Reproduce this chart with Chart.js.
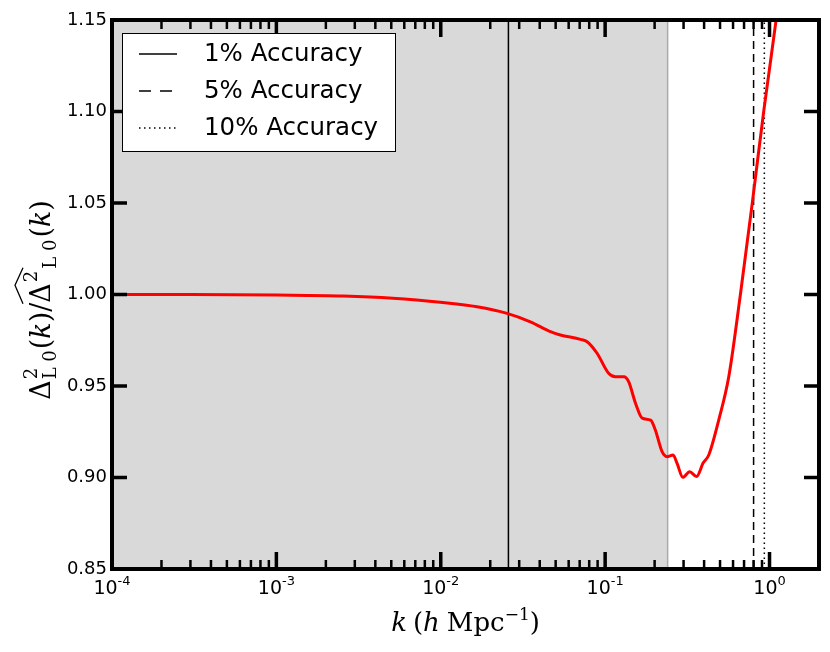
<!DOCTYPE html>
<html>
<head>
<meta charset="utf-8">
<script src="https://cdn.jsdelivr.net/npm/chart.js@4.4.1/dist/chart.umd.min.js"></script>
<style>
  html, body { margin: 0; padding: 0; background: #fff; }
  canvas { display: block; }
</style>
</head>
<body>
<canvas id="myChart" width="830" height="652"></canvas>
<script>
// k values (h/Mpc) and the ratio
const kValues = [1e-4, 3e-4, 1e-3, 2.55e-3, 5.1e-3, 0.0103, 0.0166, 0.0253, 0.0351, 0.0465,
  0.0534, 0.0708, 0.0777, 0.0893, 0.105, 0.1155, 0.130, 0.139, 0.153, 0.168,
  0.189, 0.202, 0.222, 0.238, 0.259, 0.274, 0.297, 0.327, 0.360, 0.395,
  0.427, 0.491, 0.565, 0.665, 0.785, 0.923, 1.089, 1.13];
const ratio = [1.000, 1.000, 0.9997, 0.9992, 0.998, 0.9956, 0.9933, 0.9897, 0.9851, 0.9797,
  0.9779, 0.9755, 0.9742, 0.9679, 0.957, 0.9551, 0.9551, 0.9524, 0.9406, 0.9324,
  0.9314, 0.926, 0.9141, 0.9114, 0.9123, 0.9077, 0.9001, 0.9032, 0.9005, 0.908,
  0.9123, 0.9314, 0.955, 1.0, 1.0498, 1.1005, 1.148, 1.16];

// accuracy limits (k where the error reaches 1%, 5%, 10%)
const accuracyNames = ["1% Accuracy", "5% Accuracy", "10% Accuracy"];
const accuracyK = [0.0258, 0.80, 0.93];
const shadeMaxK = 0.24;

const xMajorTicks = [1e-4, 1e-3, 1e-2, 1e-1, 1e0];
const xTickExp = ["-4", "-3", "-2", "-1", "0"];
const yTicks = [0.85, 0.90, 0.95, 1.00, 1.05, 1.10, 1.15];
const yTickLabels = ["0.85", "0.90", "0.95", "1.00", "1.05", "1.10", "1.15"];

const xMin = 1e-4, xMax = 2, yMin = 0.85, yMax = 1.15;
const dashes = [[], [8, 5], [1.5, 3.5]];
const legendDashes = [[], [12, 9], [1.5, 3.5]];

const curve = kValues.map((k, i) => ({ x: k, y: ratio[i] }));

const lineSets = accuracyK.map((k, i) => ({
  label: accuracyNames[i],
  data: [{ x: k, y: yMin }, { x: k, y: yMax }],
  borderColor: "#000",
  borderWidth: 1.5,
  borderDash: dashes[i],
  pointRadius: 0,
  tension: 0,
  order: 1
}));

const sans = "'DejaVu Sans', sans-serif";
const serif = "'DejaVu Serif', serif";

function drawSeq(ctx, parts, x, y) {
  // parts: {t, font, dy}
  let cx = x;
  parts.forEach(p => {
    ctx.font = p.font;
    ctx.fillText(p.t, cx, y + (p.dy || 0));
    cx += ctx.measureText(p.t).width + (p.gap || 0);
  });
  return cx - x;
}
function seqWidth(ctx, parts) {
  let w = 0;
  parts.forEach(p => { ctx.font = p.font; w += ctx.measureText(p.t).width + (p.gap || 0); });
  return w;
}

const shadePlugin = {
  id: "shade",
  beforeDatasetsDraw(chart) {
    const { ctx, chartArea: a, scales: { x } } = chart;
    const xr = x.getPixelForValue(shadeMaxK);
    ctx.save();
    ctx.fillStyle = "#d9d9d9";
    ctx.fillRect(a.left, a.top, xr - a.left, a.bottom - a.top);
    ctx.strokeStyle = "#aaaaaa";
    ctx.lineWidth = 1.5;
    ctx.beginPath();
    ctx.moveTo(xr, a.top);
    ctx.lineTo(xr, a.bottom);
    ctx.stroke();
    ctx.restore();
  }
};

const framePlugin = {
  id: "frame",
  afterDraw(chart) {
    const { ctx, chartArea: a, scales: { x, y } } = chart;
    ctx.save();
    ctx.fillStyle = "#000";
    ctx.strokeStyle = "#000";

    // x ticks, bottom and top, inward
    ctx.lineCap = "butt";
    for (let e = -4; e <= 0; e++) {
      for (let m = 1; m <= 9; m++) {
        const v = m * Math.pow(10, e);
        if (v > xMax) break;
        const px = x.getPixelForValue(v);
        const len = m === 1 ? 17 : 9;
        ctx.lineWidth = m === 1 ? 3.5 : 2.5;
        ctx.beginPath();
        ctx.moveTo(px, a.bottom); ctx.lineTo(px, a.bottom - len);
        ctx.moveTo(px, a.top); ctx.lineTo(px, a.top + len);
        ctx.stroke();
      }
    }
    // y ticks, left and right
    ctx.lineWidth = 3.5;
    yTicks.forEach(v => {
      const py = y.getPixelForValue(v);
      ctx.beginPath();
      ctx.moveTo(a.left, py); ctx.lineTo(a.left + 15, py);
      ctx.moveTo(a.right, py); ctx.lineTo(a.right - 15, py);
      ctx.stroke();
    });

    // legend
    const lx = 122, ly = 33, lw = 273, lh = 118;
    ctx.fillStyle = "#fff";
    ctx.fillRect(lx, ly, lw, lh);
    ctx.lineWidth = 1;
    ctx.strokeRect(lx + 0.5, ly + 0.5, lw, lh);
    ctx.fillStyle = "#000";
    ctx.font = "24.5px " + sans;
    ctx.textBaseline = "middle";
    ctx.textAlign = "left";
    accuracyNames.forEach((name, i) => {
      const ry = 54 + i * 37;
      ctx.lineWidth = 1.5;
      ctx.setLineDash(legendDashes[i]);
      ctx.beginPath();
      ctx.moveTo(139, ry); ctx.lineTo(i === 1 ? 172 : 177, ry);
      ctx.stroke();
      ctx.setLineDash([]);
      ctx.fillText(name, 204, ry + 1);
    });

    // frame
    ctx.lineWidth = 4;
    ctx.strokeRect(a.left, a.top, a.right - a.left, a.bottom - a.top);

    // y tick labels
    ctx.font = "18px " + sans;
    ctx.textAlign = "right";
    ctx.textBaseline = "middle";
    yTicks.forEach((v, i) => ctx.fillText(yTickLabels[i], a.left - 5, y.getPixelForValue(v)));

    // x tick labels 10^n
    ctx.textAlign = "left";
    ctx.textBaseline = "alphabetic";
    xMajorTicks.forEach((v, i) => {
      const parts = [{ t: "10", font: "19px " + sans }, { t: xTickExp[i], font: "13px " + sans, dy: -9 }];
      const w = seqWidth(ctx, parts);
      drawSeq(ctx, parts, x.getPixelForValue(v) - w / 2, a.bottom + 25);
    });

    // x title
    const xt = [
      { t: "k", font: "italic 26px " + serif, gap: 6 },
      { t: "(", font: "26px " + serif },
      { t: "h", font: "italic 26px " + serif, gap: 7 },
      { t: "Mpc", font: "26px " + serif },
      { t: "\u22121", font: "17px " + serif, dy: -11 },
      { t: ")", font: "26px " + serif }
    ];
    const xtw = seqWidth(ctx, xt);
    drawSeq(ctx, xt, (a.left + a.right) / 2 - xtw / 2, 631);

    // y title, rotated
    ctx.translate(42, 300);
    ctx.rotate(-Math.PI / 2);
    const big = "27px " + serif, small = "18px " + serif;
    ctx.font = big;
    const dW = ctx.measureText("\u0394").width;
    ctx.font = small;
    const l0W = ctx.measureText("L 0").width;
    const twoW = ctx.measureText("2").width;
    const rest1 = [
      { t: "(", font: big }, { t: "k", font: "italic " + big }, { t: ")/", font: big }
    ];
    const rest2 = [
      { t: "(", font: big }, { t: "k", font: "italic " + big }, { t: ")", font: big }
    ];
    const r1 = seqWidth(ctx, rest1), r2 = seqWidth(ctx, rest2);
    const total = dW + l0W + 2 + r1 + dW + twoW + 3 + l0W + 2 + r2;
    let cx = -total / 2;
    const base = 8;
    ctx.font = big; ctx.fillText("\u0394", cx, base); cx += dW;
    ctx.font = small;
    ctx.fillText("2", cx + 1, base - 13);
    ctx.fillText("L 0", cx + 1, base + 6);
    cx += l0W + 2;
    cx += drawSeq(ctx, rest1, cx, base);
    ctx.font = big; ctx.fillText("\u0394", cx, base);
    // wide hat
    ctx.lineWidth = 1.3;
    ctx.beginPath();
    ctx.moveTo(cx - 1, base - 27);
    ctx.lineTo(cx + (dW + twoW + 4) / 2, base - 35);
    ctx.lineTo(cx + dW + twoW + 4, base - 27);
    ctx.stroke();
    cx += dW;
    ctx.font = small; ctx.fillText("2", cx + 1, base - 13); cx += twoW + 3;
    ctx.fillText("L 0", cx, base + 6); cx += l0W + 2;
    drawSeq(ctx, rest2, cx, base);

    ctx.restore();
  }
};

new Chart(document.getElementById("myChart"), {
  type: "line",
  data: {
    datasets: [
      {
        label: "ratio",
        data: curve,
        borderColor: "#ff0000",
        borderWidth: 3,
        pointRadius: 0,
        cubicInterpolationMode: "monotone",
        order: 0
      },
      ...lineSets
    ]
  },
  options: {
    responsive: false,
    animation: false,
    devicePixelRatio: 1,
    layout: { padding: { left: 112, right: 11, top: 20, bottom: 83 } },
    plugins: { legend: { display: false }, tooltip: { enabled: false } },
    scales: {
      x: { type: "logarithmic", min: xMin, max: xMax, display: false },
      y: { type: "linear", min: yMin, max: yMax, display: false }
    }
  },
  plugins: [shadePlugin, framePlugin]
});
</script>
</body>
</html>
